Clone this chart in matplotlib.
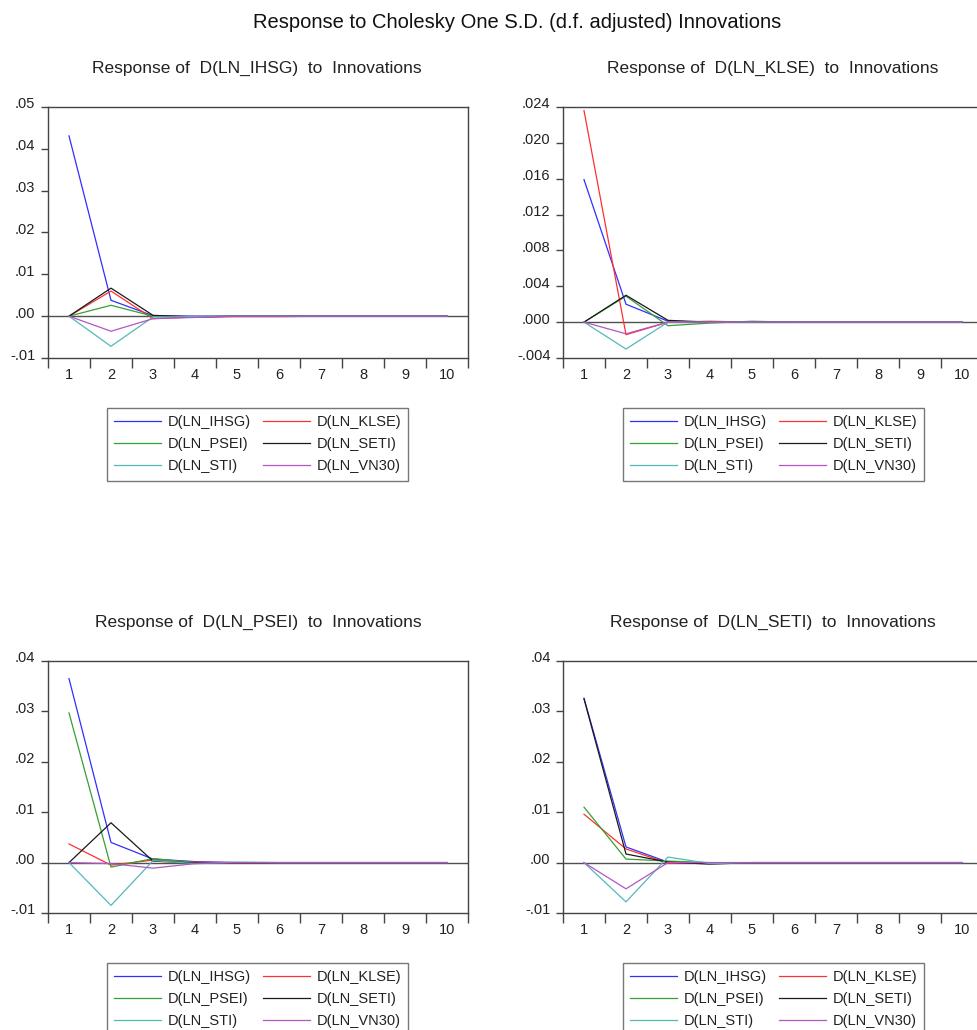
import matplotlib
matplotlib.use("Agg")
import matplotlib.pyplot as plt
import matplotlib.transforms as mtransforms
from matplotlib.lines import Line2D

# ---------------- data ----------------
periods = [1, 2, 3, 4, 5, 6, 7, 8, 9, 10]
series_names = ["D(LN_IHSG)", "D(LN_KLSE)", "D(LN_PSEI)", "D(LN_SETI)", "D(LN_STI)", "D(LN_VN30)"]

# Response of D(LN_IHSG)
ihsg_ihsg = [0.0431, 0.0038, 0.0001, 0.0000, 0, 0, 0, 0, 0, 0]
ihsg_klse = [0, 0.0060, -0.0006, -0.0002, -0.0001, -0.0001, 0, 0, 0, 0]
ihsg_psei = [0, 0.0026, 0.0000, -0.0001, 0, 0, 0, 0, 0, 0]
ihsg_seti = [0, 0.0067, 0.0002, -0.0002, 0, 0, 0, 0, 0, 0]
ihsg_sti = [0, -0.0072, -0.0002, -0.0001, 0, 0, 0, 0, 0, 0]
ihsg_vn30 = [0, -0.0036, -0.0006, -0.0003, 0, 0, 0, 0, 0, 0]

# Response of D(LN_KLSE)
klse_ihsg = [0.0159, 0.0020, 0.0001, 0, 0, 0, 0, 0, 0, 0]
klse_klse = [0.0236, -0.0014, 0.0000, 0.0001, 0, 0, 0, 0, 0, 0]
klse_psei = [0, 0.0029, -0.0004, -0.0001, 0.0001, 0, 0, 0, 0, 0]
klse_seti = [0, 0.0030, 0.0002, 0, 0, 0, 0, 0, 0, 0]
klse_sti = [0, -0.0030, 0.0000, 0, 0, 0, 0, 0, 0, 0]
klse_vn30 = [0, -0.0013, 0.0000, 0, 0, 0, 0, 0, 0, 0]

# Response of D(LN_PSEI)
psei_ihsg = [0.0365, 0.0040, 0.0007, 0.0002, 0, 0, 0, 0, 0, 0]
psei_klse = [0.0037, -0.0005, 0.0005, 0.0001, 0, 0, 0, 0, 0, 0]
psei_psei = [0.0297, -0.0009, 0.0008, 0.0000, 0, 0, 0, 0, 0, 0]
psei_seti = [0, 0.0079, 0.0003, -0.0001, 0, 0, 0, 0, 0, 0]
psei_sti = [0, -0.0085, 0.0004, -0.0002, 0.0001, 0, 0, 0, 0, 0]
psei_vn30 = [0, -0.0002, -0.0011, -0.0002, 0, 0, 0, 0, 0, 0]

# Response of D(LN_SETI)
seti_ihsg = [0.0326, 0.0031, 0.0001, -0.0001, 0, 0, 0, 0, 0, 0]
seti_klse = [0.0096, 0.0027, -0.0001, 0, 0, 0, 0, 0, 0, 0]
seti_psei = [0.0110, 0.0007, 0.0003, 0, 0, 0, 0, 0, 0, 0]
seti_seti = [0.0325, 0.0017, 0.0001, -0.0003, 0, 0, 0, 0, 0, 0]
seti_sti = [0, -0.0078, 0.0011, -0.0002, 0, 0, 0, 0, 0, 0]
seti_vn30 = [0, -0.0052, 0.0000, 0, 0, 0, 0, 0, 0, 0]

panel_titles = ["Response of  D(LN_IHSG)  to  Innovations",
                "Response of  D(LN_KLSE)  to  Innovations",
                "Response of  D(LN_PSEI)  to  Innovations",
                "Response of  D(LN_SETI)  to  Innovations"]

yticks_ihsg = [-0.01, 0.00, 0.01, 0.02, 0.03, 0.04, 0.05]
ylabels_ihsg = ["-.01", ".00", ".01", ".02", ".03", ".04", ".05"]
yticks_klse = [-0.004, 0.000, 0.004, 0.008, 0.012, 0.016, 0.020, 0.024]
ylabels_klse = ["-.004", ".000", ".004", ".008", ".012", ".016", ".020", ".024"]
yticks_psei = [-0.01, 0.00, 0.01, 0.02, 0.03, 0.04]
ylabels_psei = ["-.01", ".00", ".01", ".02", ".03", ".04"]
yticks_seti = [-0.01, 0.00, 0.01, 0.02, 0.03, 0.04]
ylabels_seti = ["-.01", ".00", ".01", ".02", ".03", ".04"]

main_title = "Response to Cholesky One S.D. (d.f. adjusted) Innovations"

# ---------------- style ----------------
colors = ["#3030ff", "#ff3030", "#35a035", "#1a1a1a", "#55b8b8", "#b455c4"]

plt.rcParams["font.family"] = ["Liberation Sans", "DejaVu Sans"]

W, H = 977, 1030
fig = plt.figure(figsize=(W / 100, H / 100), dpi=100)
fig.patch.set_facecolor("white")


def fx(px):
    return px / W


def fy(py):
    return 1 - py / H


panels = [
    ([ihsg_ihsg, ihsg_klse, ihsg_psei, ihsg_seti, ihsg_sti, ihsg_vn30], yticks_ihsg, ylabels_ihsg),
    ([klse_ihsg, klse_klse, klse_psei, klse_seti, klse_sti, klse_vn30], yticks_klse, ylabels_klse),
    ([psei_ihsg, psei_klse, psei_psei, psei_seti, psei_sti, psei_vn30], yticks_psei, ylabels_psei),
    ([seti_ihsg, seti_klse, seti_psei, seti_seti, seti_sti, seti_vn30], yticks_seti, ylabels_seti),
]

# pixel layout: (left, top, bottom)
layout = [(48, 107, 358), (563, 107, 358), (48, 661, 913), (563, 661, 913)]
title_pos = [(257, 68), (773, 68), (258, 622), (773, 622)]
legend_pos = [(107, 408), (623, 408), (107, 963), (623, 963)]
axw = 420

frame_col = "#444444"
text_col = "#222222"

# legend fills row-wise in the reference: reorder for matplotlib's column filling
leg_order = [0, 2, 4, 1, 3, 5]

for i, (series, yt, yl) in enumerate(panels):
    left, top, bottom = layout[i]
    ax = fig.add_axes([fx(left), fy(bottom), axw / W, (bottom - top) / H])
    ax.axhline(0, color="#505050", lw=1.0, zorder=1)
    for s, c, name in zip(series, colors, series_names):
        ax.plot(periods, s, color=c, lw=0.9, label=name, zorder=2)
    ax.set_xlim(0.5, 10.5)
    ax.set_ylim(yt[0], yt[-1])
    ax.set_yticks(yt)
    ax.set_yticklabels(yl)
    ax.set_xticks([p - 0.5 for p in periods] + [periods[-1] + 0.5])
    ax.set_xticklabels([])
    ax.set_xticks(periods, minor=True)
    ax.set_xticklabels([str(p) for p in periods], minor=True)
    ax.tick_params(axis="x", which="major", direction="out", length=7, width=1, color=frame_col)
    ax.tick_params(axis="x", which="minor", length=0, pad=7, labelsize=10.5, labelcolor=text_col)
    ax.tick_params(axis="y", direction="out", length=5, width=1, color=frame_col,
                   pad=4, labelsize=10.5, labelcolor=text_col)
    offset = mtransforms.ScaledTranslation(0, 4 / 100, fig.dpi_scale_trans)
    for lab in ax.get_yticklabels():
        lab.set_transform(lab.get_transform() + offset)
    for sp in ax.spines.values():
        sp.set_color(frame_col)
        sp.set_linewidth(1.0)
    ax.set_facecolor("white")

    tx, ty = title_pos[i]
    fig.text(fx(tx), fy(ty), panel_titles[i], ha="center", va="center",
             fontsize=12.5, color=text_col)

    lx, ly = legend_pos[i]
    handles = [Line2D([], [], color=colors[k], lw=0.9) for k in leg_order]
    labels = [series_names[k] for k in leg_order]
    leg = fig.legend(handles, labels, loc="upper left",
                     bbox_to_anchor=(fx(lx), fy(ly)), ncol=2, fontsize=10.5,
                     frameon=True, fancybox=False, handlelength=3.2, handletextpad=0.45,
                     columnspacing=0.85, labelspacing=0.55, borderpad=0.5,
                     borderaxespad=0.0)
    leg.get_frame().set_edgecolor("#555555")
    leg.get_frame().set_linewidth(1.0)
    for t in leg.get_texts():
        t.set_color(text_col)

fig.text(fx(517), fy(22), main_title, ha="center", va="center", fontsize=14.5,
         color="#111111")

fig.savefig("out.png", dpi=100, facecolor="white")
